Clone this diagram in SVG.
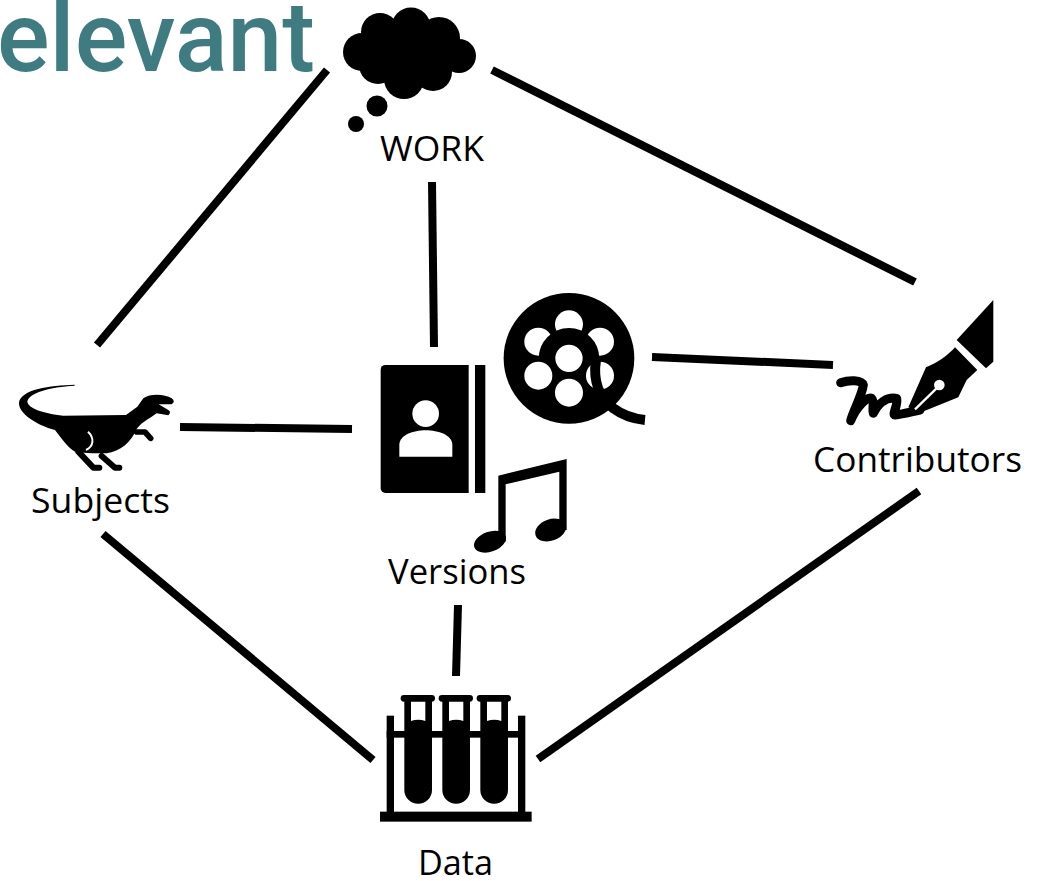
<svg xmlns="http://www.w3.org/2000/svg" width="1041" height="881" viewBox="0 0 1041 881">
<style>
.lbl{font-family:"Open Sans","Liberation Sans",sans-serif;font-size:34px;fill:#000}
.ttl{font-family:"Roboto","Liberation Sans",sans-serif;font-size:98px;font-weight:500;fill:#3f7c82}
#connectors line{stroke:#000;stroke-width:8}
.w{fill:#fff}
</style>
<rect width="1041" height="881" fill="#fff"/>
<text id="title" class="ttl" x="-3" y="71" textLength="318" lengthAdjust="spacingAndGlyphs">elevant</text>
<g id="connectors">
<line x1="327" y1="70" x2="97" y2="345"/>
<line x1="492" y1="70" x2="915" y2="282"/>
<line x1="432" y1="182" x2="434" y2="347"/>
<line x1="180" y1="427" x2="352" y2="429"/>
<line x1="652" y1="357" x2="833" y2="365"/>
<line x1="103" y1="534" x2="373" y2="760"/>
<line x1="919" y1="491" x2="538" y2="759"/>
<line x1="458" y1="605" x2="456" y2="676"/>
</g>
<g id="work">
<circle cx="362" cy="52" r="19"/><circle cx="380" cy="32" r="19"/><circle cx="411" cy="27" r="19.500"/><circle cx="439" cy="38" r="21"/><circle cx="459" cy="56" r="17"/><circle cx="404" cy="79" r="20"/><circle cx="433" cy="72" r="19"/><circle cx="378" cy="65" r="19"/><ellipse cx="408" cy="52" rx="42" ry="30"/>
<circle cx="377" cy="106" r="10.500"/><circle cx="356" cy="124" r="8"/>
<text class="lbl" x="380" y="161" textLength="104" lengthAdjust="spacingAndGlyphs">WORK</text>
</g>
<g id="subjects">
<g transform="translate(0 370) scale(.3333)">
<path d="M224 44C150 46 62 58 57 98C55 130 110 165 165 180C185 205 205 235 225 245C260 250 300 250 320 250C360 245 395 215 408 180C420 160 440 150 455 140L470 130L505 136Q515 125 505 120L476 103L515 103Q528 95 515 85C495 72 450 70 430 85L412 110L378 135L190 137C130 130 85 115 82 95C85 70 150 50 224 47Z"/>
<path d="M410 186L435 186L452 205" fill="none" stroke="#000" stroke-width="17" stroke-linecap="round" stroke-linejoin="round"/>
<path d="M235 245L280 293L298 293M305 258L345 293L358 293" fill="none" stroke="#000" stroke-width="18" stroke-linecap="round" stroke-linejoin="round"/>
<path d="M264 185C285 205 280 230 258 240" fill="none" stroke="#fff" stroke-width="6"/>
</g>
<text class="lbl" x="31" y="513" textLength="139" lengthAdjust="spacingAndGlyphs">Subjects</text>
</g>
<g id="versions">
<g transform="translate(370 285) scale(.3333)">
<path d="M46 240H296V624H46A14 14 0 0 1 32 610V254A14 14 0 0 1 46 240Z"/>
<rect x="315" y="240" width="31" height="384"/>
<circle class="w" cx="167" cy="386" r="40"/>
<path class="w" d="M88 515V480C88 450 130 436 167 436C205 436 247 450 247 480V515Z"/>
<circle cx="597" cy="220" r="196"/>
<circle class="w" cx="597" cy="118" r="42"/><circle class="w" cx="505" cy="170" r="42"/><circle class="w" cx="690" cy="170" r="42"/>
<circle cx="597" cy="220" r="91"/>
<circle class="w" cx="597" cy="323" r="42"/><circle class="w" cx="505" cy="272" r="42"/><circle class="w" cx="690" cy="272" r="42"/>
<circle class="w" cx="597" cy="220" r="41"/>
<path d="M678 225C668 290 690 340 730 370Q770 400 825 405" fill="none" stroke="#000" stroke-width="30"/>
<path d="M385 572L590 522V735H568V560L407 598V770H385Z"/>
<ellipse cx="360" cy="770" rx="50" ry="30" transform="rotate(-20 360 770)"/>
<ellipse cx="542" cy="735" rx="48" ry="32" transform="rotate(-20 542 735)"/>
</g>
<text class="lbl" x="388" y="584" textLength="138" lengthAdjust="spacingAndGlyphs">Versions</text>
</g>
<g id="contributors">
<g transform="translate(820 290) scale(.3333)">
<path d="M520 30L410 150L498 235L520 215Z"/>
<path d="M405 172L472 240L440 270L415 322L300 368L265 352L318 232C350 220 385 195 405 172Z"/>
<path d="M62 278C85 270 125 268 130 285C125 320 100 360 92 392C110 350 140 320 155 325C165 335 155 355 160 370C175 340 200 320 230 325C235 345 215 375 225 375C250 372 275 365 300 360" fill="none" stroke="#000" stroke-width="27" stroke-linecap="round" stroke-linejoin="round"/>
<path d="M285 358L355 290" stroke="#fff" stroke-width="7"/>
<circle class="w" cx="358" cy="285" r="16"/>
</g>
<text class="lbl" x="813" y="472" textLength="209" lengthAdjust="spacingAndGlyphs">Contributors</text>
</g>
<g id="data">
<g transform="translate(370 685) scale(.3333)">
<rect x="30" y="380" width="455" height="30"/>
<rect x="50" y="92" width="22" height="290"/><rect x="444" y="92" width="22" height="290"/>
<rect x="50" y="138" width="415" height="20"/>
<g id="tube"><path d="M103 40V315A41.500 41.500 0 0 0 186 315V40Z"/><rect x="92" y="30" width="103" height="20" rx="10"/><path class="w" d="M123 50V108Q145 100 166 108V50Z"/></g>
<g transform="translate(114 0)"><path d="M103 40V315A41.500 41.500 0 0 0 186 315V40Z"/><rect x="92" y="30" width="103" height="20" rx="10"/><path class="w" d="M123 50V108Q145 100 166 108V50Z"/></g>
<g transform="translate(228 0)"><path d="M103 40V315A41.500 41.500 0 0 0 186 315V40Z"/><rect x="92" y="30" width="103" height="20" rx="10"/><path class="w" d="M123 50V108Q145 100 166 108V50Z"/></g>
</g>
<text class="lbl" x="418" y="875" textLength="75" lengthAdjust="spacingAndGlyphs">Data</text>
</g>
</svg>
